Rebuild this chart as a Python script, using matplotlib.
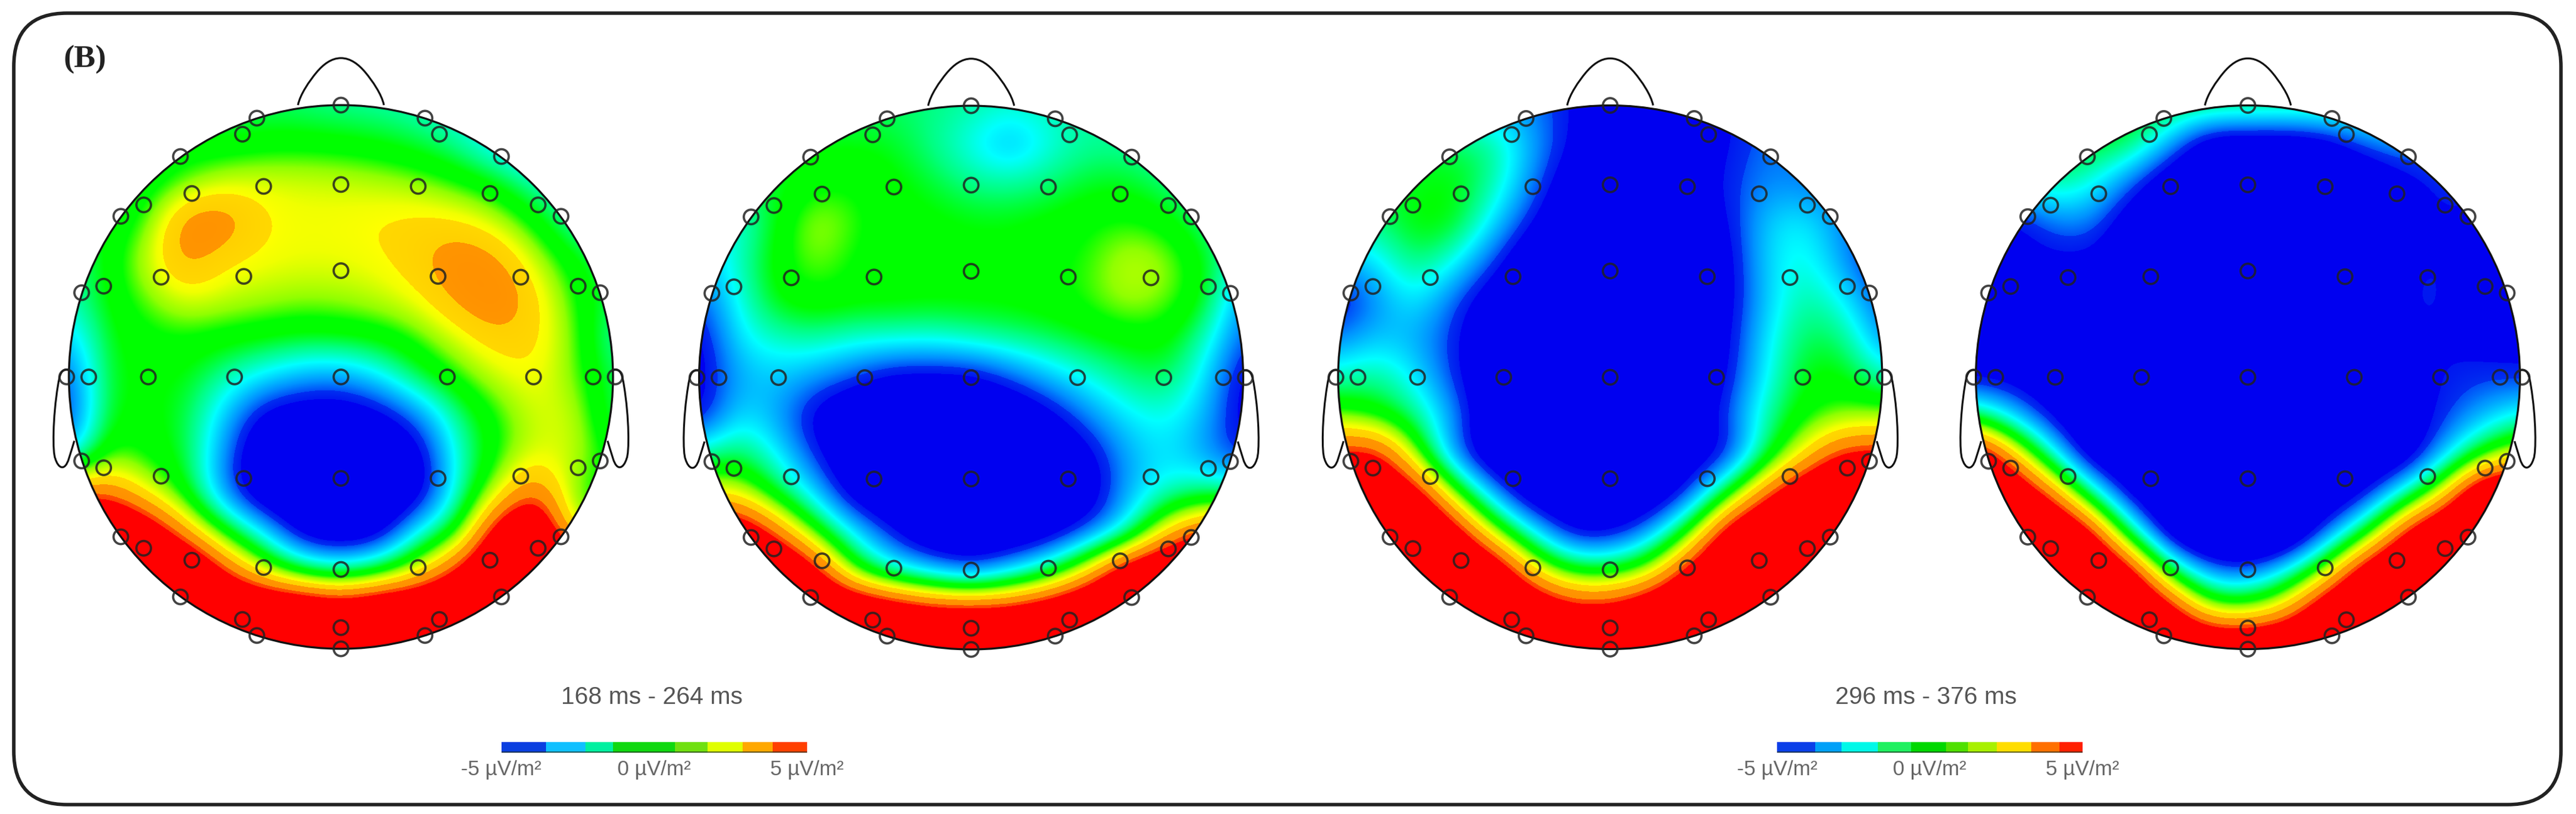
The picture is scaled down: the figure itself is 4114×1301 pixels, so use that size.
import matplotlib
matplotlib.use("Agg")
from matplotlib import pyplot as plt
from matplotlib.colors import LinearSegmentedColormap, Normalize
from matplotlib.patches import Circle, FancyBboxPatch, PathPatch
from matplotlib.path import Path
import numpy as np

W, H = 4114, 1301

# estimated surface values (uV/m2) on a 15x15 grid over the unit head, top row = front
map1 = [
    [-1, -1, -1, -1, -1, -0.8, -1, -1.2, -1.3, -1.5, -2, -2, -2, -2, -2],
    [0, 0, 0, 0, -0.2, 0, 0.1, 0, -0.2, -0.6, -1.2, -2.5, -3, -3, -3],
    [0, 0, -0.3, 0.6, 1.5, 1.7, 1.6, 1.5, 1.3, 1.0, 0.4, -0.2, -1.5, -2, -2],
    [-0.5, -0.3, 0.5, 3.9, 4.0, 2.2, 1.9, 2.0, 2.2, 2.4, 2.2, 1.4, 0.1, -1.5, -2],
    [-1.5, 0, 1.4, 3.6, 2.2, 1.9, 1.8, 1.8, 2.0, 2.7, 4.0, 3.3, 1.4, -0.1, -1],
    [-1.5, -0.1, 0.8, 1.7, 1.4, 1.2, 1.0, 1.1, 1.4, 1.9, 3.3, 4.2, 2.4, 0.4, -0.8],
    [-2.8, -0.3, 0.2, 0.3, 0.1, -0.1, -0.3, -0.2, 0, 0.6, 1.6, 2.7, 2.4, 0.8, -1.5],
    [-4, -0.3, -0.1, -0.2, -1.3, -2.2, -3.0, -3.2, -2.2, -0.5, 0.5, 1.5, 2.1, 0.8, -0.8],
    [-4.5, -0.2, 0, -0.5, -2.6, -5, -5.5, -5.5, -5, -3.5, -1.0, 0.4, 1.6, 1.6, -1],
    [-3, 0.8, 0.2, -0.4, -3.4, -6, -6, -6, -6, -5.2, -1.6, 0.3, 1.7, 1.5, 0],
    [4, 4, 1.8, 0, -3.5, -6, -6, -6, -6, -5.5, -1.5, 1.5, 4.5, 0.5, 0],
    [8, 8, 6.5, 3.2, 0.2, -2.2, -5.5, -6, -5.5, -1.8, -0.1, 6, 8, 1, 1],
    [8, 8, 8, 8, 4.5, 1.5, -0.6, -1.5, -0.3, 1.8, 5, 8, 8, 8, 8],
    [8, 8, 8, 8, 8, 8, 8, 7, 8, 8, 8, 8, 8, 8, 8],
    [8, 8, 8, 8, 8, 8, 8, 8, 8, 8, 8, 8, 8, 8, 8],
]
map2 = [
    [-1, -1, -1, -1, -1, -0.8, -1.0, -1.2, -1.5, -1.3, -1.2, -1.2, -1.2, -1.2, -1.2],
    [-0.3, -0.3, -0.3, -0.3, -0.2, -0.4, -1.1, -2.0, -3.1, -1.9, -1.2, -1.3, -1.5, -1.5, -1.5],
    [-0.5, -0.5, -0.6, 0.2, 0.3, 0, -0.5, -1.1, -1.2, -0.9, -0.4, -0.3, -1.0, -1.5, -1.5],
    [-2, -2, -0.2, 1.4, 0.6, 0, 0, -0.2, -0.2, 0, 0.3, 0.5, 0.1, -1, -2],
    [-3, -1.5, 0.1, 1.0, 0.3, 0, 0, 0, 0, 0.3, 0.5, 1.5, 1.2, -0.2, -2],
    [-4, -1.9, 0, 0.3, 0.1, 0.1, 0, 0, 0, 0.2, 0.6, 1.3, 0.9, -0.1, -3.5],
    [-5, -2.2, -1.5, -1.2, -1.6, -1.6, -1.7, -1.3, -1, -0.7, -0.3, 0, 0.1, -1.4, -4],
    [-5, -3, -2.6, -3.2, -4, -5, -5, -5, -3.9, -2.7, -1.8, -1.0, -0.6, -2.2, -5],
    [-5, -2.2, -3, -5, -6, -6, -6, -6, -6, -5, -3.4, -2.2, -1.8, -2.8, -5],
    [-1.3, -0.5, -2, -4.2, -6, -6, -6, -6, -6, -6, -5, -3.0, -2.2, -3.2, -4.5],
    [2, 1.8, -0.4, -2.5, -5.5, -6, -6, -6, -6, -6, -5.5, -3, -1.6, -0.9, -1],
    [7, 7, 4, 0.5, -2.2, -4.5, -6, -6, -6, -5.5, -4, -2, 2.5, 5, 5],
    [8, 8, 8, 5.5, 0.3, -1.8, -3.0, -4.2, -2.7, -0.8, 2.5, 7, 8, 8, 8],
    [8, 8, 8, 8, 8, 7, 6, 6, 6, 7, 8, 8, 8, 8, 8],
    [8, 8, 8, 8, 8, 8, 8, 8, 8, 8, 8, 8, 8, 8, 8],
]
map3 = [
    [-3, -3, -3, -3, -3, -3.4, -4.5, -5.5, -5.5, -5, -4.5, -4, -4, -4, -4],
    [-0.5, -0.5, -0.5, -0.7, -1.0, -3.0, -4.5, -6, -6, -5.5, -4.5, -3.5, -3.5, -3.5, -3.5],
    [-0.5, -0.5, -0.4, -0.1, -1.2, -3.4, -5.5, -6, -6, -5.2, -4.2, -3.3, -3.6, -3.6, -3.6],
    [-1, -1, 0, -0.1, -2.3, -4.5, -6, -6, -6, -5.5, -4.6, -2.5, -2.0, -3.5, -4],
    [-3, -2.2, -0.7, -1.8, -4, -6, -6, -6, -6, -6, -5, -2.4, -1.6, -3.2, -5],
    [-5, -3.3, -2, -3.8, -5.5, -6, -6, -6, -6, -6, -5, -2.6, -1.1, -2.0, -4],
    [-3.5, -2.6, -3, -4.2, -6, -6, -6, -6, -6, -6, -4.8, -2.2, -0.6, -0.8, -3.5],
    [-1.5, -1, -2.2, -4.2, -6, -6, -6, -6, -6, -6, -4.6, -2, -0.1, 0, -1.5],
    [0.8, 0, -1.0, -3.2, -6, -6, -6, -6, -6, -5.5, -4, -1.2, 0.2, 0.8, 1.0],
    [5, 5.5, 1.0, -3.8, -6, -6, -6, -6, -6, -5.5, -4.8, -0.8, 2.2, 5, 5],
    [7, 7, 6, 1.1, -3.2, -6, -6, -6, -6, -4.4, 0, 4.2, 7, 8, 8],
    [8, 8, 8, 6, 1.5, -2, -5, -5, -3.3, 0.4, 6, 8, 8, 8, 8],
    [8, 8, 8, 8, 7, 2.6, 0.2, 0, 1.4, 5.5, 8, 8, 8, 8, 8],
    [8, 8, 8, 8, 8, 7, 5.5, 5.5, 7, 8, 8, 8, 8, 8, 8],
    [8, 8, 8, 8, 8, 8, 8, 8, 8, 8, 8, 8, 8, 8, 8],
]
map4 = [
    [0, 0, 0, 0, 0, -0.3, -0.4, -0.5, -0.6, -0.6, -0.8, -1.2, -1.5, -1.5, -1.5],
    [-0.2, -0.2, -0.2, -0.3, -0.5, -3, -6, -6, -6, -5.5, -3.8, -3, -3.5, -3.5, -3.5],
    [-2, -2, -1, -1.8, -3.8, -6, -6, -6, -6, -6, -6, -5, -4, -4, -4],
    [-5, -4.8, -3.5, -3.4, -5.5, -6, -6, -6, -6, -6, -6, -5.5, -4.4, -5, -5],
    [-5, -5, -4.6, -4.6, -6, -6, -6, -6, -6, -6, -6, -4.5, -4.3, -4.9, -5],
    [-5, -5.5, -6, -6, -6, -6, -6, -6, -6, -6, -6, -4.3, -4.3, -5, -5],
    [-5, -5.5, -6, -6, -6, -6, -6, -6, -6, -6, -6, -4.6, -4.4, -5, -5],
    [-5, -5, -5.5, -6, -6, -6, -6, -6, -6, -6, -6, -5, -4.4, -4, -4.2],
    [-0.5, -2.8, -5, -6, -6, -6, -6, -6, -6, -6, -6, -5.5, -4.2, -3.0, -1.8],
    [7, 3, -1.8, -6, -6, -6, -6, -6, -6, -6, -6, -6, -3, 0.1, 2],
    [8, 7, 4, -1.2, -5.5, -6, -6, -6, -6, -6, -5, -1.6, 2, 8, 8],
    [8, 8, 8, 5.5, -1, -6, -7, -7, -7, -4, -0.3, 5, 8, 8, 8],
    [8, 8, 8, 8, 6, -0.2, -3.5, -4, -2, 1.5, 6.5, 8, 8, 8, 8],
    [8, 8, 8, 8, 8, 6, 1.5, 1.2, 3, 7, 8, 8, 8, 8, 8],
    [8, 8, 8, 8, 8, 8, 8, 8, 8, 8, 8, 8, 8, 8, 8],
]
maps = [map1, map2, map3, map4]

# electrode positions on the unit head, left half, mirrored for the right
left_x = [-0.309, -0.362, -0.590, -0.284, -0.548, -0.725, -0.809, -0.357, -0.661, -0.872, -0.953, -0.391, -0.708,
          -0.927, -1.008, -0.357, -0.661, -0.872, -0.953, -0.284, -0.548, -0.725, -0.809, -0.590, -0.362, -0.309]
left_y = [0.952, 0.893, 0.811, 0.701, 0.675, 0.633, 0.591, 0.370, 0.367, 0.334, 0.310, 0, 0,
          0, 0, -0.373, -0.365, -0.334, -0.309, -0.701, -0.674, -0.630, -0.588, -0.809, -0.892, -0.951]
mid_y = [1.0, 0.708, 0.391, 0, -0.373, -0.708, -0.922, -1.0]

head_x = [544.5, 1551, 2571.5, 3590]
head_y = [602.5, 603.5, 603, 603]
head_r = 434.5

windows = ["168 ms - 264 ms", "296 ms - 376 ms"]
window_x = [1041, 3076]
tick_vals = [-5, 0, 5]
tick_labels = ["-5 µV/m²", "0 µV/m²", "5 µV/m²"]
bar_px = [(800.5, 1289), (2838, 3326)]
bar_edges = [
    [-5, -3.54, -2.25, -1.34, 0.69, 1.74, 2.89, 3.88, 5],
    [-5, -3.75, -2.89, -1.71, -0.62, 0.53, 1.26, 2.2, 3.32, 4.24, 5],
]
bar_colors = [
    ["#0a3fe0", "#10c0ff", "#00f0a0", "#10d810", "#70e010", "#e0ff00", "#ffa800", "#ff4000"],
    ["#0a3fe8", "#00a0f8", "#00f8e8", "#20f060", "#00d800", "#50e000", "#a8f000", "#ffdd00", "#ff7000", "#ff2000"],
]

nodes = [
    (-5, "#0000f0"), (-4.4, "#0000f0"), (-4.4, "#0018f0"), (-3.9, "#0030f0"), (-3.9, "#0050f8"),
    (-3.3, "#0090ff"), (-2.6, "#00ccff"), (-2, "#00ffff"), (-1, "#00ff80"), (-0.2, "#00ff00"),
    (0.4, "#00ff00"), (1, "#90ff00"), (1.8, "#f0ff00"), (2.1, "#ffff00"), (2.1, "#ffd800"),
    (2.9, "#ffd000"), (2.9, "#ff9600"), (3.9, "#ff9000"), (3.9, "#ff5000"), (4.4, "#ff4000"),
    (4.4, "#ff0000"), (5, "#ff0000"),
]
cmap = LinearSegmentedColormap.from_list("topo", [((v + 5) / 10, c) for v, c in nodes], N=1024)

plt.rcParams["font.family"] = ["Liberation Sans", "DejaVu Sans"]

fig = plt.figure(figsize=(W / 100, H / 100), dpi=100)


def px_axes(x0, y0, x1, y1):
    return fig.add_axes([x0 / W, 1 - y1 / H, (x1 - x0) / W, (y1 - y0) / H])


back = fig.add_axes([0, 0, 1, 1])
back.set_xlim(0, W)
back.set_ylim(H, 0)
back.axis("off")
back.add_patch(FancyBboxPatch((22, 21), 4068, 1265, boxstyle="round,pad=0,rounding_size=85",
                              fc="white", ec="#222222", lw=4))
back.text(102, 95, "(B)", family="Liberation Serif", weight="bold", fontsize=37, color="#222222",
          ha="left", va="center")

step = 1 / 7
ex = np.array(left_x + [-v for v in left_x] + [0] * len(mid_y))
ey = np.array(left_y + left_y + mid_y)

nose = Path([(-0.158, 1.0), (-0.15, 1.04), (-0.115, 1.09), (-0.09, 1.12), (-0.065, 1.15), (-0.035, 1.173), (0, 1.173),
             (0.035, 1.173), (0.065, 1.15), (0.09, 1.12), (0.115, 1.09), (0.15, 1.04), (0.158, 1.0)],
            [Path.MOVETO] + [Path.CURVE4] * 12)
ear_pts = [(-1.0, 0.026), (-1.03, 0.035), (-1.035, 0.0), (-1.04, -0.03), (-1.06, -0.15), (-1.06, -0.28),
           (-1.05, -0.3), (-1.04, -0.335), (-1.015, -0.35), (-1.0, -0.3), (-0.99, -0.27), (-0.985, -0.25), (-0.98, -0.235)]
ear_codes = [Path.MOVETO] + [Path.CURVE4] * 12

for i in range(4):
    span = 1.25 * head_r
    ax = px_axes(head_x[i] - span, head_y[i] - span, head_x[i] + span, head_y[i] + span)
    ax.set_xlim(-1.25, 1.25)
    ax.set_ylim(-1.25, 1.25)
    ax.axis("off")
    im = ax.imshow(np.array(maps[i], dtype=float), cmap=cmap, norm=Normalize(-5, 5),
                   extent=(-1 - step / 2, 1 + step / 2, -1 - step / 2, 1 + step / 2),
                   interpolation="bicubic", interpolation_stage="data", origin="upper", aspect="auto")
    ring = Circle((0, 0), 1, fc="none", ec="#111111", lw=2.3, zorder=3)
    ax.add_patch(ring)
    im.set_clip_path(Circle((0, 0), 1, transform=ax.transData))
    ax.set_xlim(-1.25, 1.25)
    ax.set_ylim(-1.25, 1.25)
    ax.add_patch(PathPatch(nose, fc="none", ec="#111111", lw=2.2, zorder=3))
    ax.add_patch(PathPatch(Path(ear_pts, ear_codes), fc="none", ec="#111111", lw=2.2, zorder=3))
    ax.add_patch(PathPatch(Path([(-x, y) for x, y in ear_pts], ear_codes), fc="none", ec="#111111", lw=2.2, zorder=3))
    ax.scatter(ex, ey, s=280, facecolors="none", edgecolors="#222222", linewidths=2.6, alpha=0.85, zorder=4)

for i in range(2):
    back.text(window_x[i], 1115, windows[i], fontsize=28, color="#555555", ha="center", va="center")
    cax = px_axes(bar_px[i][0], 1186, bar_px[i][1], 1203)
    cax.set_xlim(-5, 5)
    cax.set_ylim(0, 1)
    edges = bar_edges[i]
    cax.barh(0.5, np.diff(edges), left=edges[:-1], height=1, color=bar_colors[i])
    cax.plot([-5, 5], [0.03, 0.03], color="#203020", lw=2, alpha=0.7)
    cax.axis("off")
    for v, lab in zip(tick_vals, tick_labels):
        cax.annotate(lab, (v, 0), xytext=(0, -20), xycoords="data", textcoords="offset points",
                     fontsize=24, color="#666666", ha="center", va="center", annotation_clip=False)

fig.savefig("out.png", dpi=100, facecolor="white")
